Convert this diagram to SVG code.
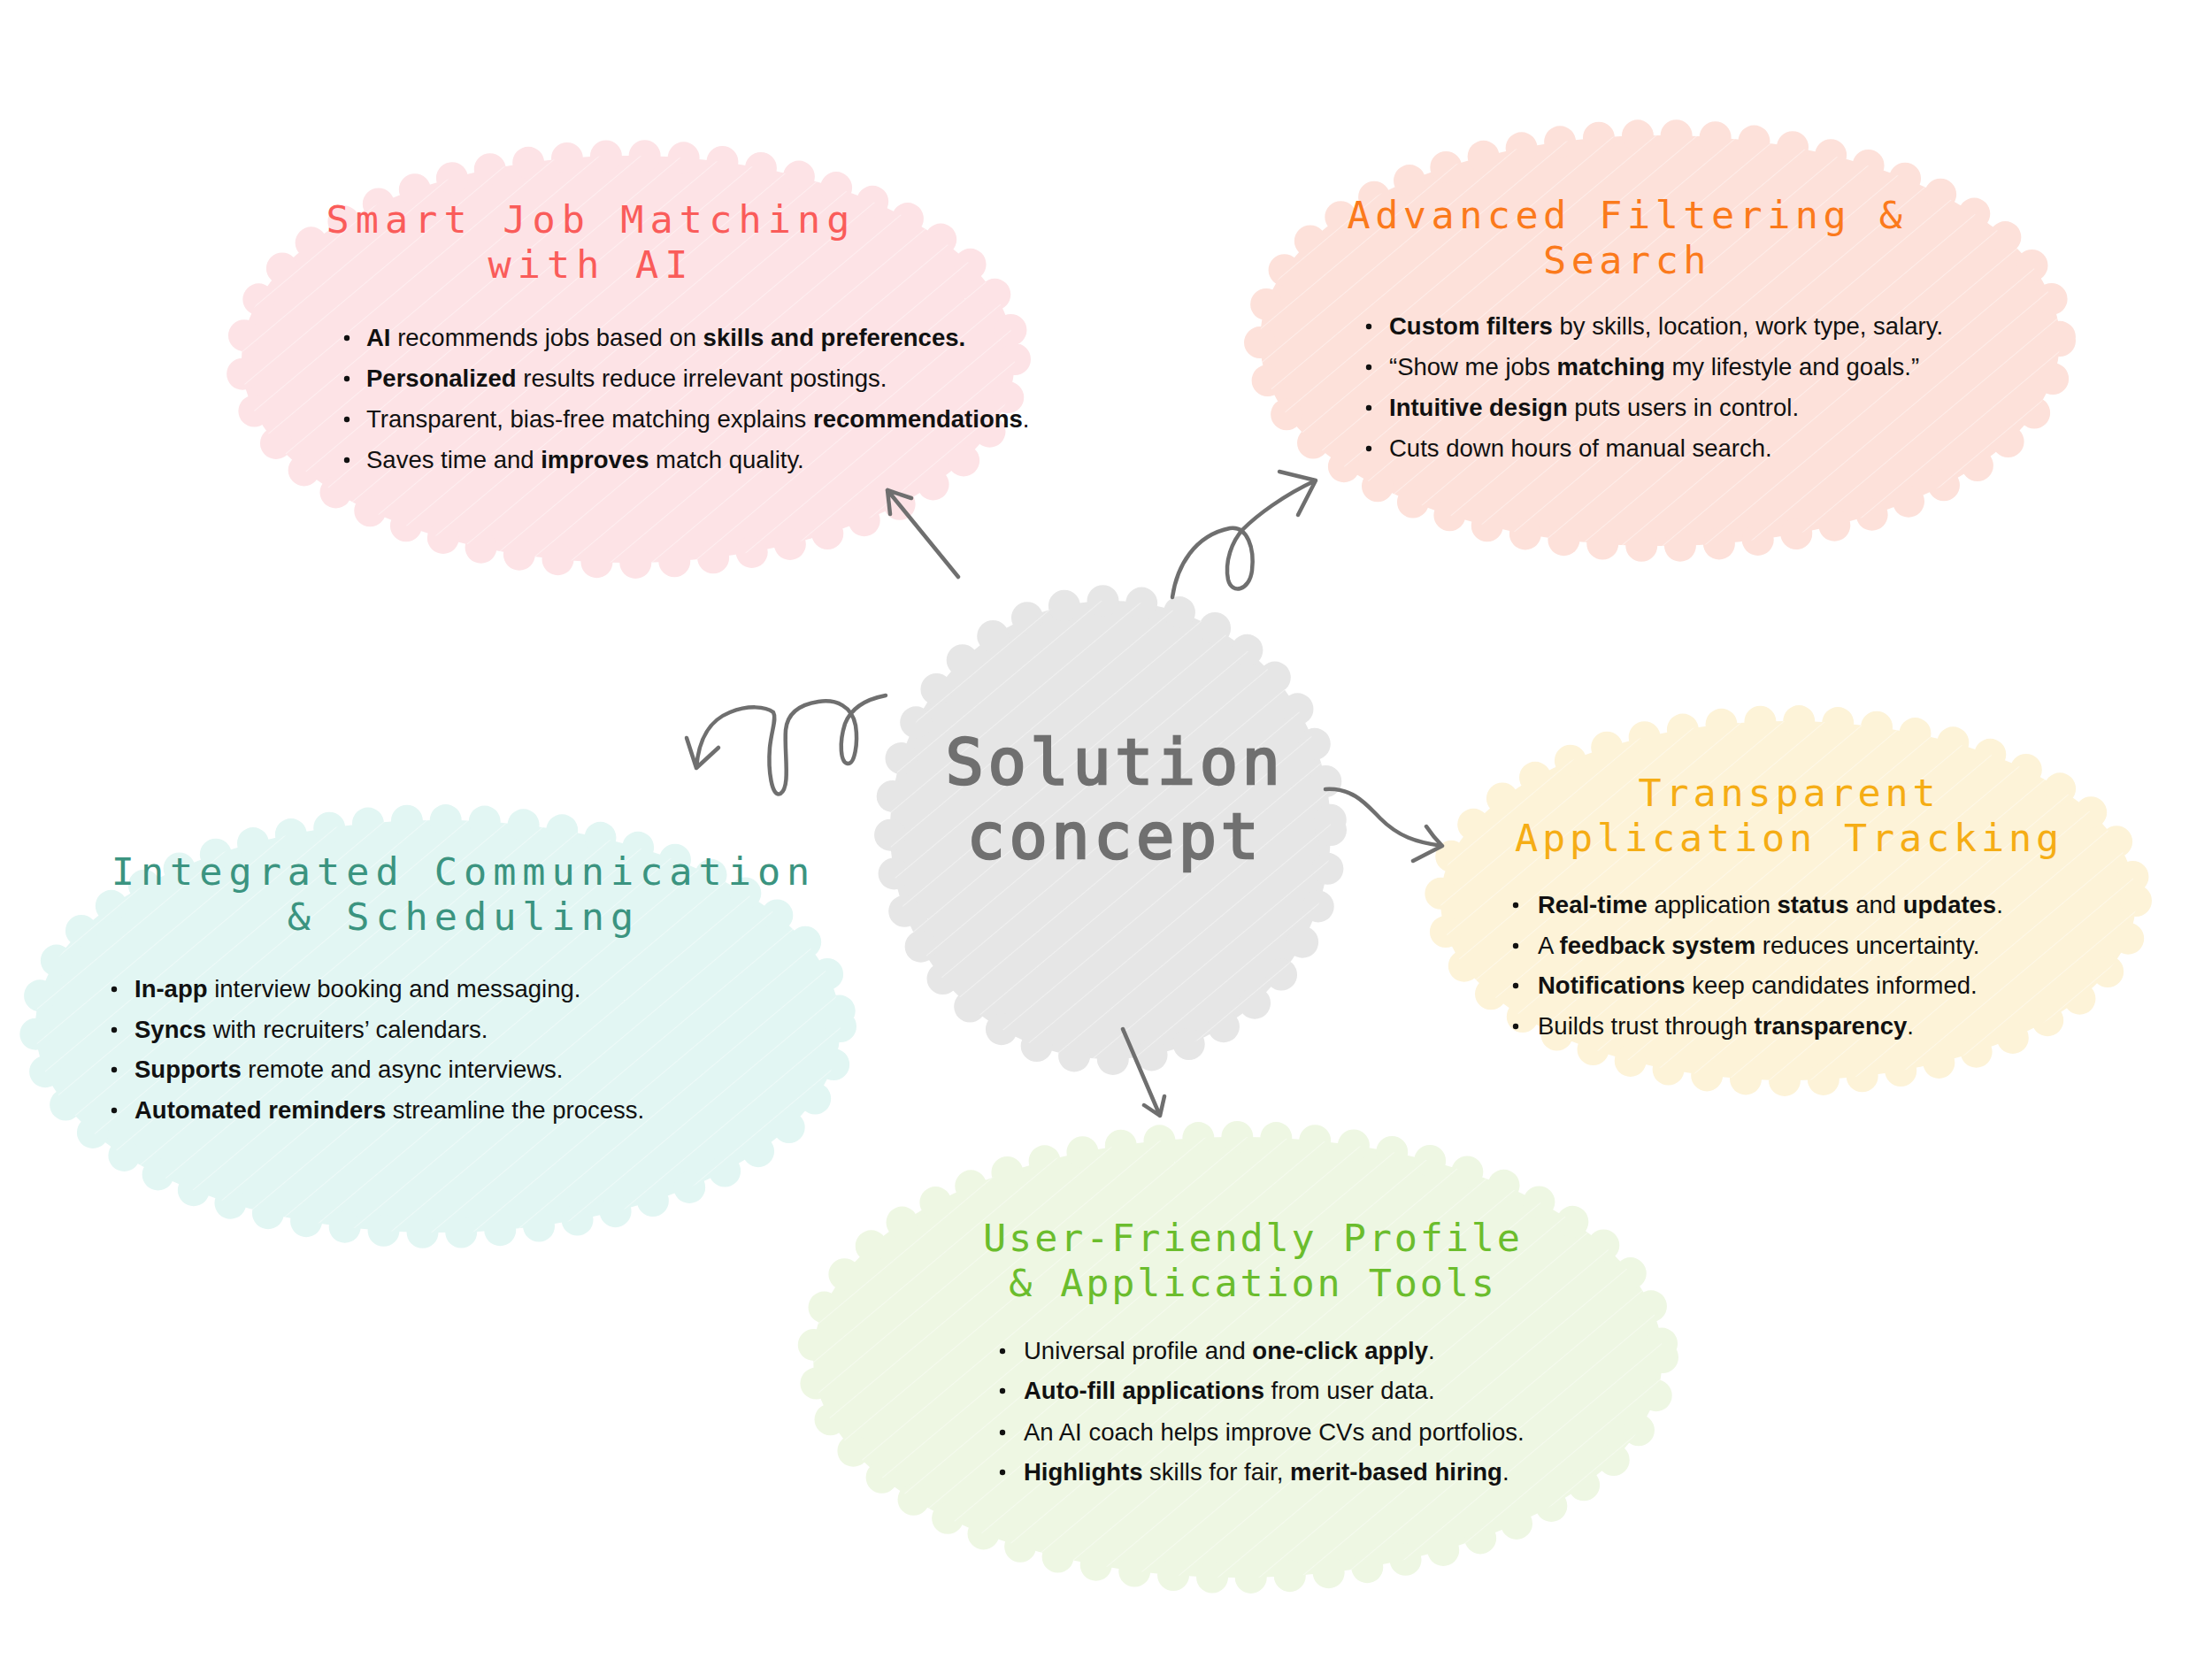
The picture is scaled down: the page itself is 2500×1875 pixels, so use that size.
<svg xmlns="http://www.w3.org/2000/svg" width="2500" height="1875" viewBox="0 0 2500 1875">
<style>
.edge{fill:none;stroke-width:36;stroke-linecap:round;stroke-dasharray:0 44}
.hatch{fill:url(#hatch)}
.title{font-family:"DejaVu Sans Mono","Liberation Mono",monospace;font-size:43.5px;text-anchor:middle}
.body{font-family:"Liberation Sans",Arial,sans-serif;font-size:27.5px;fill:#111}
.b{font-weight:bold}
.dot{fill:#111}
.conn{fill:none;stroke:#6f6f6f;stroke-width:4.5;stroke-linecap:round;stroke-linejoin:round}
.center{font-family:"DejaVu Sans Mono","Liberation Mono",monospace;font-size:72px;letter-spacing:4.5px;fill:#707070;stroke:#707070;stroke-width:2.5;text-anchor:middle}
</style>
<defs>
<pattern id="hatch" width="30" height="30" patternUnits="userSpaceOnUse" patternTransform="rotate(-40)">
<line x1="0" y1="0" x2="30" y2="0" stroke="#ffffff" stroke-width="1.5" opacity="0.55"/>
</pattern>
</defs>
<rect width="2500" height="1875" fill="#ffffff"/>

<g id="node-smart-job-matching">
<ellipse cx="710" cy="406" rx="437" ry="230" fill="#fde3e6"/>
<ellipse cx="710" cy="406" rx="437" ry="230" class="edge" stroke="#fde3e6"/>
<ellipse cx="710" cy="406" rx="437" ry="230" class="hatch"/>
<text class="title" fill="#fa5c5a" letter-spacing="7.1"><tspan x="668" y="263">Smart Job Matching</tspan><tspan x="668" y="314">with AI</tspan></text>
<circle class="dot" cx="392" cy="382" r="3.2"/>
<circle class="dot" cx="392" cy="428" r="3.2"/>
<circle class="dot" cx="392" cy="474" r="3.2"/>
<circle class="dot" cx="392" cy="520" r="3.2"/>
<text class="body"><tspan x="414" y="391"><tspan class="b">AI</tspan> recommends jobs based on <tspan class="b">skills and preferences.</tspan></tspan><tspan x="414" y="437"><tspan class="b">Personalized</tspan> results reduce irrelevant postings.</tspan><tspan x="414" y="483">Transparent, bias-free matching explains <tspan class="b">recommendations</tspan>.</tspan><tspan x="414" y="529">Saves time and <tspan class="b">improves</tspan> match quality.</tspan></text>
</g>

<g id="node-advanced-filtering">
<ellipse cx="1876" cy="385" rx="452" ry="232" fill="#fde1da"/>
<ellipse cx="1876" cy="385" rx="452" ry="232" class="edge" stroke="#fde1da"/>
<ellipse cx="1876" cy="385" rx="452" ry="232" class="hatch"/>
<text class="title" fill="#fb7a1c" letter-spacing="5.45"><tspan x="1839" y="258">Advanced Filtering &amp;</tspan><tspan x="1839" y="309">Search</tspan></text>
<circle class="dot" cx="1547" cy="369" r="3.2"/>
<circle class="dot" cx="1547" cy="415" r="3.2"/>
<circle class="dot" cx="1547" cy="461" r="3.2"/>
<circle class="dot" cx="1547" cy="507" r="3.2"/>
<text class="body"><tspan x="1570" y="378"><tspan class="b">Custom filters</tspan> by skills, location, work type, salary.</tspan><tspan x="1570" y="424">“Show me jobs <tspan class="b">matching</tspan> my lifestyle and goals.”</tspan><tspan x="1570" y="470"><tspan class="b">Intuitive design</tspan> puts users in control.</tspan><tspan x="1570" y="516">Cuts down hours of manual search.</tspan></text>
</g>

<g id="node-solution-concept">
<ellipse cx="1255" cy="938" rx="249" ry="259" fill="#e6e6e6"/>
<ellipse cx="1255" cy="938" rx="249" ry="259" class="edge" stroke="#e6e6e6"/>
<ellipse cx="1255" cy="938" rx="249" ry="259" class="hatch"/>
<text class="center"><tspan x="1260" y="886">Solution</tspan><tspan x="1260" y="970">concept</tspan></text>
</g>

<g id="node-transparent-tracking">
<ellipse cx="2021" cy="1018" rx="393" ry="203" fill="#fdf3d8"/>
<ellipse cx="2021" cy="1018" rx="393" ry="203" class="edge" stroke="#fdf3d8"/>
<ellipse cx="2021" cy="1018" rx="393" ry="203" class="hatch"/>
<text class="title" fill="#f5ad15" letter-spacing="4.8"><tspan x="2022" y="911">Transparent</tspan><tspan x="2022" y="962">Application Tracking</tspan></text>
<circle class="dot" cx="1713" cy="1023" r="3.2"/>
<circle class="dot" cx="1713" cy="1069" r="3.2"/>
<circle class="dot" cx="1713" cy="1114" r="3.2"/>
<circle class="dot" cx="1713" cy="1160" r="3.2"/>
<text class="body"><tspan x="1738" y="1032"><tspan class="b">Real-time</tspan> application <tspan class="b">status</tspan> and <tspan class="b">updates</tspan>.</tspan><tspan x="1738" y="1078">A <tspan class="b">feedback system</tspan> reduces uncertainty.</tspan><tspan x="1738" y="1123"><tspan class="b">Notifications</tspan> keep candidates informed.</tspan><tspan x="1738" y="1169">Builds trust through <tspan class="b">transparency</tspan>.</tspan></text>
</g>

<g id="node-integrated-communication">
<ellipse cx="495" cy="1160" rx="455" ry="233" fill="#e2f6f3"/>
<ellipse cx="495" cy="1160" rx="455" ry="233" class="edge" stroke="#e2f6f3"/>
<ellipse cx="495" cy="1160" rx="455" ry="233" class="hatch"/>
<text class="title" fill="#3b9480" letter-spacing="7"><tspan x="524" y="1000">Integrated Communication</tspan><tspan x="524" y="1051">&amp; Scheduling</tspan></text>
<circle class="dot" cx="129" cy="1118" r="3.2"/>
<circle class="dot" cx="129" cy="1164" r="3.2"/>
<circle class="dot" cx="129" cy="1209" r="3.2"/>
<circle class="dot" cx="129" cy="1255" r="3.2"/>
<text class="body"><tspan x="152" y="1127"><tspan class="b">In-app</tspan> interview booking and messaging.</tspan><tspan x="152" y="1173"><tspan class="b">Syncs</tspan> with recruiters’ calendars.</tspan><tspan x="152" y="1218"><tspan class="b">Supports</tspan> remote and async interviews.</tspan><tspan x="152" y="1264"><tspan class="b">Automated reminders</tspan> streamline the process.</tspan></text>
</g>

<g id="node-user-friendly-profile">
<ellipse cx="1399" cy="1534" rx="480" ry="249" fill="#eef7e3"/>
<ellipse cx="1399" cy="1534" rx="480" ry="249" class="edge" stroke="#eef7e3"/>
<ellipse cx="1399" cy="1534" rx="480" ry="249" class="hatch"/>
<text class="title" fill="#6bbd2d" letter-spacing="2.85"><tspan x="1416" y="1414">User-Friendly Profile</tspan><tspan x="1416" y="1465">&amp; Application Tools</tspan></text>
<circle class="dot" cx="1133" cy="1527" r="3.2"/>
<circle class="dot" cx="1133" cy="1572" r="3.2"/>
<circle class="dot" cx="1133" cy="1619" r="3.2"/>
<circle class="dot" cx="1133" cy="1664" r="3.2"/>
<text class="body"><tspan x="1157" y="1536">Universal profile and <tspan class="b">one-click apply</tspan>.</tspan><tspan x="1157" y="1581"><tspan class="b">Auto-fill applications</tspan> from user data.</tspan><tspan x="1157" y="1628">An AI coach helps improve CVs and portfolios.</tspan><tspan x="1157" y="1673"><tspan class="b">Highlights</tspan> skills for fair, <tspan class="b">merit-based hiring</tspan>.</tspan></text>
</g>

<g id="connectors">
<path class="conn" d="M1083,652 L1003,554 M1030,563 L1003,554 L1006,581"/>
<path class="conn" d="M1325,675 C1330,640 1350,605 1390,597 C1410,594 1418,620 1415,645 C1412,668 1392,672 1388,655 C1384,635 1392,612 1405,598 C1420,583 1450,560 1487,543 M1446,533 L1487,543 L1467,582"/>
<path class="conn" d="M1001,786 C980,790 962,800 955,818 C948,840 950,862 958,863 C966,864 970,840 967,820 C963,798 945,790 925,793 C905,796 890,805 888,825 C886,850 894,890 882,897 C872,902 868,870 870,845 C872,825 878,812 874,805 C865,798 845,797 825,805 C805,813 790,830 787,868 M776,834 L787,868 L812,845"/>
<path class="conn" d="M1498,892 C1530,890 1545,910 1560,925 C1580,945 1600,952 1630,956 M1612,934 Q1620,946 1630,956 L1597,973"/>
<path class="conn" d="M1269,1163 L1311,1261 M1293,1249 L1311,1261 L1316,1239"/>
</g>
</svg>
